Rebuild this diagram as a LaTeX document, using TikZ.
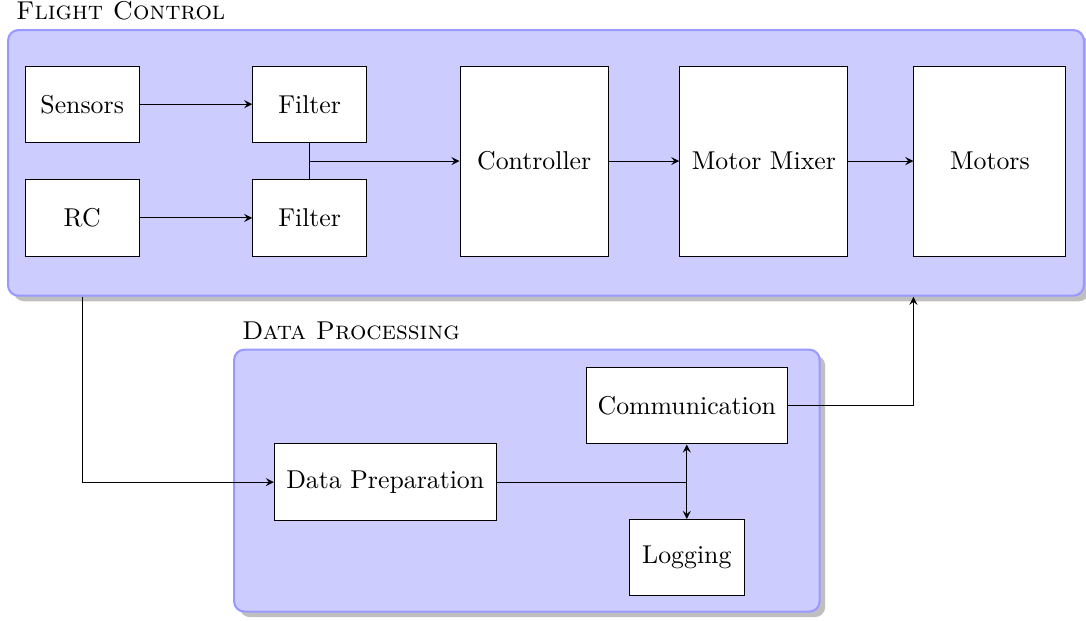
\documentclass[tikz,border=0pt]{standalone}
\usepackage{tikz}
\usetikzlibrary{shadows}
\definecolor{groupfill}{RGB}{204,204,255}
\definecolor{groupline}{RGB}{153,153,255}

\begin{document}
\begin{tikzpicture}[
  block/.style={draw,rectangle,fill=white,minimum width=1.55cm,minimum height=1.04cm,align=center},
  group/.style={draw=groupline,thick,fill=groupfill,rounded corners,drop shadow},
  grouplabel/.style={anchor=south west,font=\scshape}
]
\useasboundingbox (0,0) rectangle (14.80,-8.46);
% containers
\node[group,minimum width=14.66cm,minimum height=3.62cm] (fc) at (7.44,-2.22) {};
\node[grouplabel] at (fc.north west) {Flight Control};
\node[group,minimum width=7.98cm,minimum height=3.57cm] (dp) at (7.18,-6.55) {};
\node[grouplabel] at (dp.north west) {Data Processing};
% flight control blocks
\node[block] (sensors) at (1.12,-1.42) {Sensors};
\node[block] (rc) at (1.12,-2.97) {RC};
\node[block] (filtera) at (4.22,-1.42) {Filter};
\node[block] (filterb) at (4.22,-2.97) {Filter};
\node[block,minimum width=2.02cm,minimum height=2.59cm] (ctrl) at (7.28,-2.195) {Controller};
\node[block,minimum width=2.29cm,minimum height=2.59cm] (mixer) at (10.41,-2.195) {Motor Mixer};
\node[block,minimum width=2.07cm,minimum height=2.59cm] (motors) at (13.49,-2.195) {Motors};
% data processing blocks
\node[block,minimum width=2.74cm] (comm) at (9.36,-5.53) {Communication};
\node[block,minimum width=3.02cm] (prep) at (5.25,-6.57) {Data Preparation};
\node[block,minimum width=1.57cm] (logging) at (9.36,-7.60) {Logging};
% connections
\draw[-stealth] (sensors) -- (filtera);
\draw[-stealth] (rc) -- (filterb);
\draw (filtera.south) -- (filterb.north) coordinate[midway] (fjoin);
\draw[-stealth] (fjoin) -- (fjoin -| ctrl.west);
\draw[-stealth] (ctrl) -- (mixer);
\draw[-stealth] (mixer) -- (motors);
\draw[-stealth] (fc.south -| sensors.south) |- (prep.west);
\coordinate (djoin) at (comm.south |- prep.east);
\draw (prep.east) -- (djoin);
\draw[-stealth] (djoin) -- (comm.south);
\draw[-stealth] (djoin) -- (logging.north);
\draw[-stealth] (comm.east) -| (fc.south -| motors.west);
\end{tikzpicture}
\end{document}
